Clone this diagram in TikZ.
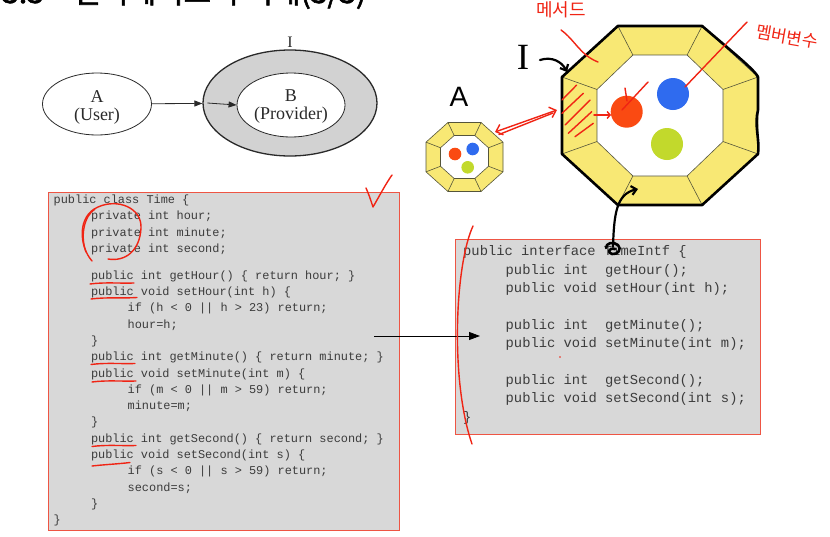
\documentclass[tikz,border=0pt]{standalone}
\usepackage{fontspec}
\usetikzlibrary{arrows.meta,shapes.geometric,calc}
\newfontfamily\codefont{Liberation Mono}
\newfontfamily\serifA{Liberation Serif}
\newfontfamily\handsans{Liberation Sans}
\newfontfamily\krfont{Noto Sans CJK KR}
\newfontfamily\krtitle[FakeBold=2]{Noto Sans CJK KR}
\definecolor{codegray}{HTML}{D8D8D8}
\definecolor{codetext}{HTML}{3C3C3C}
\definecolor{boxred}{HTML}{EE5544}
\definecolor{penred}{HTML}{F02414}
\definecolor{ellgray}{HTML}{D2D2D2}
\definecolor{ellline}{HTML}{2A2A2A}
\definecolor{octyellow}{HTML}{F8E874}
\definecolor{octedge}{HTML}{55553A}
\definecolor{dotred}{HTML}{FA4A12}
\definecolor{dotblue}{HTML}{2F6BEF}
\definecolor{dotgreen}{HTML}{C2D92C}
\tikzset{
  codeL/.style={anchor=base west, inner sep=0pt, font=\codefont\fontsize{11.9}{12}\selectfont, text=codetext},
  codeR/.style={anchor=base west, inner sep=0pt, font=\codefont\fontsize{13.8}{14}\selectfont, text=codetext},
  redpen/.style={draw=penred, line width=1.4pt, line cap=round, line join=round},
  blackpen/.style={draw=black, line width=2.2pt, line cap=round, line join=round},
  octline/.style={draw=octedge, line width=0.6pt},
  ellarrow/.style={draw=ellline, line width=0.8pt, -{Triangle[length=8pt,width=6pt]}},
  ellfont/.style={font=\serifA\fontsize{18}{18}\selectfont, text=ellline, align=center, inner sep=0pt},
  codebox/.style={draw=boxred, fill=codegray, line width=0.8pt, inner sep=0pt},
}
\newcommand\makeocta[6]{%
  \coordinate (#1c) at (#2);
  \foreach \i/\a/\b in {1/-0.43/-1, 2/0.43/-1, 3/1/-0.43, 4/1/0.43, 5/0.43/1, 6/-0.43/1, 7/-1/0.43, 8/-1/-0.43}{
    \coordinate (#1o\i) at ($(#1c)+(\a*#3,\b*#4)$);
    \coordinate (#1i\i) at ($(#1c)+(\a*#5,\b*#6)$);
  }
  \fill[octyellow] (#1o1) -- (#1o2) -- (#1o3) -- (#1o4) -- (#1o5) -- (#1o6) -- (#1o7) -- (#1o8) -- cycle;
  \fill[white] (#1i1) -- (#1i2) -- (#1i3) -- (#1i4) -- (#1i5) -- (#1i6) -- (#1i7) -- (#1i8) -- cycle;
  \draw[octline] (#1o1) -- (#1o2) -- (#1o3) -- (#1o4) -- (#1o5) -- (#1o6) -- (#1o7) -- (#1o8) -- cycle;
  \draw[octline] (#1i1) -- (#1i2) -- (#1i3) -- (#1i4) -- (#1i5) -- (#1i6) -- (#1i7) -- (#1i8) -- cycle;
  \foreach \i in {1,...,8}{\draw[octline] (#1o\i) -- (#1i\i);}
}
\begin{document}
\begin{tikzpicture}[x=1pt,y=-1pt]
\useasboundingbox (0,0) rectangle (830,536);
\fill[white] (0,0) rectangle (830,536);
% cut-off title
\begin{scope}
\clip (0,0) rectangle (830,536);
\node[anchor=base west, inner sep=0pt, font=\krtitle\fontsize{30}{30}\selectfont] (titlepre) at (2,3) {3.3};
\node[anchor=base west, inner sep=0pt, font=\krtitle\fontsize{30}{30}\selectfont] (title) at (73,3) {인터페이스의 이해(3/3)};
\end{scope}

% ellipse diagram
\node[ellipse, draw=ellline, line width=0.8pt, fill=white, minimum width=109pt, minimum height=62pt, inner sep=0pt] (A) at (97,104) {};
\node[ellipse, draw=ellline, line width=1.3pt, fill=ellgray, minimum width=174pt, minimum height=106pt, inner sep=0pt] (I) at (290,103) {};
\node[ellipse, draw=ellline, line width=0.8pt, fill=white, minimum width=108pt, minimum height=64pt, inner sep=0pt] (B) at (291,105) {};
\node[ellfont] (Atext) at (97,107) {A\\(User)};
\node[ellfont] (Btext) at (291,107) {B\\(Provider)};
\node[inner sep=0pt, font=\serifA\fontsize{16}{16}\selectfont, text=ellline] (labI) at (290,42) {I};
\draw[ellarrow] (A) -- (I);
\draw[ellarrow] ([xshift=5pt]I.west) -- (B.west);

% code boxes
\node[codebox, minimum width=351pt, minimum height=338pt] (timebox) at (223.5,361) {};
\node[codebox, minimum width=305pt, minimum height=195pt] (intfbox) at (607.5,336.7) {};

% left code
\node[codeL] (l1) at (53.5,203.5) {public class Time \{};
\node[codeL] (l2) at (90.8,219.8) {private int hour;};
\node[codeL] (l3) at (90.8,236.1) {private int minute;};
\node[codeL] (l4) at (90.8,252.4) {private int second;};
\node[codeL] (l5) at (90.8,279.2) {public int getHour() \{ return hour; \}};
\node[codeL] (l6) at (90.8,295.5) {public void setHour(int h) \{};
\node[codeL] (l7) at (127.5,311.8) {if (h < 0 || h > 23) return;};
\node[codeL] (l8) at (127.5,328.1) {hour=h;};
\node[codeL] (l9) at (90.8,344.4) {\}};
\node[codeL] (l10) at (90.8,360.7) {public int getMinute() \{ return minute; \}};
\node[codeL] (l11) at (90.8,377.0) {public void setMinute(int m) \{};
\node[codeL] (l12) at (127.5,393.3) {if (m < 0 || m > 59) return;};
\node[codeL] (l13) at (127.5,409.6) {minute=m;};
\node[codeL] (l14) at (90.8,425.9) {\}};
\node[codeL] (l15) at (90.8,442.2) {public int getSecond() \{ return second; \}};
\node[codeL] (l16) at (90.8,458.5) {public void setSecond(int s) \{};
\node[codeL] (l17) at (127.5,474.8) {if (s < 0 || s > 59) return;};
\node[codeL] (l18) at (127.5,491.1) {second=s;};
\node[codeL] (l19) at (90.8,507.4) {\}};
\node[codeL] (l20) at (53.5,523.7) {\}};

% right code
\node[codeR] (r1) at (463,255.7) {public interface TimeIntf \{};
\node[codeR] (r2) at (505.5,274.1) {public int\ \ getHour();};
\node[codeR] (r3) at (505.5,292.5) {public void setHour(int h);};
\node[codeR] (r4) at (505.5,329.3) {public int\ \ getMinute();};
\node[codeR] (r5) at (505.5,347.7) {public void setMinute(int m);};
\node[codeR] (r6) at (505.5,384.5) {public int\ \ getSecond();};
\node[codeR] (r7) at (505.5,402.9) {public void setSecond(int s);};
\node[codeR] (r8) at (463,421.3) {\}};

% arrow between the code boxes
\coordinate (codeArrowStart) at (374,336);
\coordinate (codeArrowEnd) at (480,336);
\draw[draw=black, line width=0.8pt, -{Triangle[length=11pt,width=8pt]}] (codeArrowStart) -- (codeArrowEnd);

% octagons
\makeocta{s}{464.5,157}{38.5}{34.5}{24}{21.5}
\fill[dotred] (455,154) circle (6.3);
\fill[dotblue] (472.7,149) circle (6.3);
\fill[dotgreen] (467.7,167.3) circle (6.3);

\makeocta{b}{660,115.5}{98}{89.5}{63}{60.5}
\fill[dotred] (626.7,111.7) circle (16);
\fill[dotblue] (673,94) circle (16);
\fill[dotgreen] (667,144) circle (16);
\draw[blackpen, line width=2.6pt] (bo1) -- (bo2) .. controls (730,50) and (755,70) .. (bo3) -- (758,110) .. controls (754,125) and (760,140) .. (bo4) -- (bo5) -- (bo6) -- (bo7) -- (bo8) -- cycle;

% handwritten black labels
\node[inner sep=0pt, font=\handsans\fontsize{28}{28}\selectfont] (labA) at (459,97) {A};
\node[inner sep=0pt, font=\serifA\fontsize{37}{37}\selectfont] (labIbig) at (523,57) {I};
\coordinate (iArrowStart) at (540,60);
\coordinate (iArrowEnd) at (567,72);
\draw[blackpen, -{Straight Barb[length=5pt,width=9pt]}] (iArrowStart) .. controls (552,56) and (562,62) .. (iArrowEnd);
\coordinate (bArrowStart) at (613,247);
\coordinate (bArrowEnd) at (638,189);
\draw[blackpen, -{Straight Barb[length=5pt,width=9pt]}] (bArrowStart) .. controls (614,215) and (616,194) .. (bArrowEnd);
\draw[blackpen, line width=2.6pt] (606,248) .. controls (606,243) and (613,241) .. (618,245) .. controls (622,249) and (618,255) .. (612,254) .. controls (607,253) and (609,247) .. (615,249);

% red annotations
\node[inner sep=0pt, font=\krfont\fontsize{18}{18}\selectfont, text=penred] (lblMethod) at (561,10) {메서드};
\node[inner sep=0pt, font=\krfont\fontsize{17}{17}\selectfont, text=penred, rotate=-10] (lblMember) at (787,37) {멤버변수};
\coordinate (mA) at (561,30);
\coordinate (mB) at (598,62);
\draw[redpen] (mA) .. controls (575,40) and (580,55) .. (mB);
\coordinate (vA) at (747,22);
\coordinate (vB) at (685,87);
\draw[redpen] (vA) -- (vB);
\coordinate (hA) at (648,82);
\coordinate (hB) at (622,110);
\draw[redpen] (hA) -- (hB);
\draw[redpen] (625,88) -- (627,101);
% hatching
\draw[redpen] (562,100) -- (576.7,85);
\draw[redpen] (562,113.3) -- (583.3,93.3);
\draw[redpen] (565,125) -- (590,100);
\draw[redpen] (568.3,133.3) -- (591.7,111.7);
\draw[redpen] (575,136.7) -- (593.3,123.3);
\coordinate (tA) at (594,115);
\coordinate (tB) at (611,115);
\draw[redpen, -{Straight Barb[length=3pt,width=7pt]}] (tA) -- (tB);
% double arrow
\coordinate (dA) at (495,132);
\coordinate (dB) at (557,110);
\draw[redpen, {Straight Barb[length=6pt,width=11pt]}-{Straight Barb[length=6pt,width=11pt]}] (dA) -- (dB);
\draw[redpen] ($(dA)+(4,2.5)$) -- ($(dB)+(-4,3)$);
% check mark
\coordinate (ckA) at (366,188);
\coordinate (ckB) at (392,175);
\draw[redpen] (ckA) .. controls (369,195) .. (373,207) .. controls (380,195) and (385,185) .. (ckB);
% circle around private
\draw[redpen] (92,261) .. controls (79,246) and (77,216) .. (98,207) .. controls (118,198) and (142,208) .. (141,228) .. controls (140,250) and (126,262) .. (108,259);
\draw[redpen] (86,252) .. controls (80,236) and (84,216) .. (95,209);
% underlines of public
\draw[redpen] (90,284) .. controls (105,282) and (120,283.5) .. (134,283);
\draw[redpen] (91,299) .. controls (106,297) and (122,298.5) .. (137,297.5);
\draw[redpen] (91,364.5) .. controls (106,362.5) and (121,364) .. (135,363.5);
\draw[redpen] (92,382) .. controls (107,380) and (122,381.5) .. (136,381);
\draw[redpen] (92,446.5) .. controls (107,444.5) and (122,446) .. (136,445.5);
\draw[redpen] (92,466) .. controls (105,464.5) and (118,464) .. (130,462.5);
% bracket line at right box
\coordinate (pA) at (473,226);
\coordinate (pB) at (472,444);
\draw[redpen] (pA) .. controls (455,265) and (450,380) .. (pB);
\fill[penred] (560,357) circle (0.9);
\end{tikzpicture}
\end{document}
